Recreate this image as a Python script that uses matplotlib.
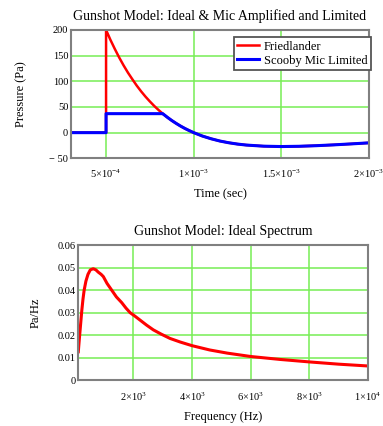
import numpy as np
import matplotlib
matplotlib.use("Agg")
import matplotlib.pyplot as plt

plt.rcParams['font.family'] = ['Liberation Serif', 'DejaVu Serif']
plt.rcParams['mathtext.fontset'] = 'custom'
plt.rcParams['mathtext.rm'] = 'Liberation Serif'
plt.rcParams['mathtext.it'] = 'Liberation Serif:italic'

# -------------------------
# Data
# -------------------------
# time axis (sec)
t_fried = [3e-4, 5e-4, 5e-4, 5.25e-4, 5.5e-4, 5.75e-4, 6e-4, 6.25e-4, 6.5e-4,
           6.75e-4, 7e-4, 7.25e-4, 7.5e-4, 7.75e-4, 8e-4, 8.25e-4, 8.5e-4,
           8.75e-4, 9e-4, 9.25e-4, 9.5e-4, 9.75e-4, 1.0e-3, 1.05e-3, 1.1e-3,
           1.15e-3, 1.2e-3, 1.25e-3, 1.3e-3, 1.4e-3, 1.5e-3,
           1.6e-3, 1.7e-3, 1.8e-3, 1.9e-3, 2.0e-3]
p_fried = [0, 0, 200, 180.7, 163, 146.3, 131, 116.8, 104,
           91.6, 80.4, 70.1, 60.7, 51.9, 43.9, 36.5, 29.8,
           23.6, 18, 12.8, 8.1, 3.9, 0, -6.7, -12,
           -16.4, -19.7, -22.3, -24.2, -26.4, -27.1,
           -26.6, -25.4, -23.8, -21.9, -19.9]

t_mic = [3e-4, 5e-4, 5e-4, 8.23e-4, 8.25e-4, 8.5e-4,
         8.75e-4, 9e-4, 9.25e-4, 9.5e-4, 9.75e-4, 1.0e-3, 1.05e-3, 1.1e-3,
         1.15e-3, 1.2e-3, 1.25e-3, 1.3e-3, 1.4e-3, 1.5e-3,
         1.6e-3, 1.7e-3, 1.8e-3, 1.9e-3, 2.0e-3]
p_mic = [0, 0, 37, 37, 36.5, 29.8,
         23.6, 18, 12.8, 8.1, 3.9, 0, -6.7, -12,
         -16.4, -19.7, -22.3, -24.2, -26.4, -27.1,
         -26.6, -25.4, -23.8, -21.9, -19.9]

t_ticks = [5e-4, 1e-3, 1.5e-3, 2e-3]
t_labels = [r'$5{\times}10^{-4}$', r'$1{\times}10^{-3}$',
            r'$1.5{\times}10^{-3}$', r'$2{\times}10^{-3}$']
p_ticks = [-50, 0, 50, 100, 150, 200]
p_labels = ['\u2212 50', '0', '50', '100', '150', '200']

# spectrum (Pa/Hz vs Hz)
freq = [120, 160, 200, 240, 280, 320, 380, 450, 530, 630, 720, 800, 900,
        975, 1100, 1260, 1420, 1600, 1750, 1890, 2050, 2200, 2450, 2680,
        2950, 3250, 3600, 4000, 4600, 5200, 6000, 7000, 8000, 9000, 10000]
spec = [0.0127, 0.019, 0.025, 0.031, 0.036, 0.040, 0.044, 0.047, 0.049,
        0.0495, 0.049, 0.048, 0.047, 0.046, 0.043, 0.040, 0.037, 0.0345,
        0.032, 0.030, 0.0285, 0.027, 0.0245, 0.0224, 0.0205, 0.0186, 0.0170,
        0.0154, 0.0135, 0.0121, 0.0106, 0.0093, 0.0082, 0.0072, 0.0064]

f_ticks = [2e3, 4e3, 6e3, 8e3, 1e4]
f_labels = [r'$2{\times}10^{3}$', r'$4{\times}10^{3}$', r'$6{\times}10^{3}$',
            r'$8{\times}10^{3}$', r'$1{\times}10^{4}$']
s_ticks = [0, 0.01, 0.02, 0.03, 0.04, 0.05, 0.06]
s_labels = ['0', '0.01', '0.02', '0.03', '0.04', '0.05', '0.06']

GRID = '#77ee55'
SPINE = '#808080'


def style_axes(ax):
    ax.grid(True, color=GRID, linewidth=1.1)
    ax.set_axisbelow(True)
    for s in ax.spines.values():
        s.set_color(SPINE)
        s.set_linewidth(1.5)
    ax.tick_params(length=0, labelsize=7.5, pad=2)


fig = plt.figure(figsize=(3.83, 4.26), dpi=100)

# -------------------------
# Top: pressure vs time
# -------------------------
ax1 = fig.add_axes([0.1854, 0.6284, 0.778, 0.3012])
ax1.plot(t_fried, p_fried, color='#ff0000', linewidth=1.8, label='Friedlander')
ax1.plot(t_mic, p_mic, color='#0000ff', linewidth=2.2, label='Scooby Mic Limited')
ax1.set_xlim(3e-4, 2e-3)
ax1.set_ylim(-50, 200)
ax1.set_xticks(t_ticks)
ax1.set_xticklabels(t_labels)
ax1.set_yticks(p_ticks)
ax1.set_yticklabels(p_labels)
style_axes(ax1)
ax1.tick_params(axis='x', pad=7)
ax1.set_title('Gunshot Model: Ideal & Mic Amplified and Limited', fontsize=10, pad=7)
ax1.set_xlabel('Time (sec)', fontsize=9, labelpad=6)
ax1.set_ylabel('Pressure (Pa)', fontsize=9, labelpad=16)
leg = ax1.legend(loc='upper right', bbox_to_anchor=(1.007, 0.945),
                 fontsize=9, fancybox=False, framealpha=1,
                 edgecolor='#555555', borderpad=0.3, handlelength=1.7,
                 handletextpad=0.4, labelspacing=0.15, borderaxespad=0)
leg.get_frame().set_linewidth(1.3)

# -------------------------
# Bottom: spectrum
# -------------------------
ax2 = fig.add_axes([0.2044, 0.1070, 0.7564, 0.3178])
ax2.plot(freq, spec, color='#ff0000', linewidth=2.2)
ax2.set_xlim(120, 1e4)
ax2.set_ylim(0, 0.06)
ax2.set_xticks(f_ticks)
ax2.set_xticklabels(f_labels)
ax2.set_yticks(s_ticks)
ax2.set_yticklabels(s_labels)
style_axes(ax2)
ax2.tick_params(axis='x', pad=7)
ax2.set_title('Gunshot Model: Ideal Spectrum', fontsize=10, pad=7)
ax2.set_xlabel('Frequency (Hz)', fontsize=9, labelpad=6)
ax2.set_ylabel('Pa/Hz', fontsize=9, labelpad=11)

fig.savefig('out.png', dpi=100)
